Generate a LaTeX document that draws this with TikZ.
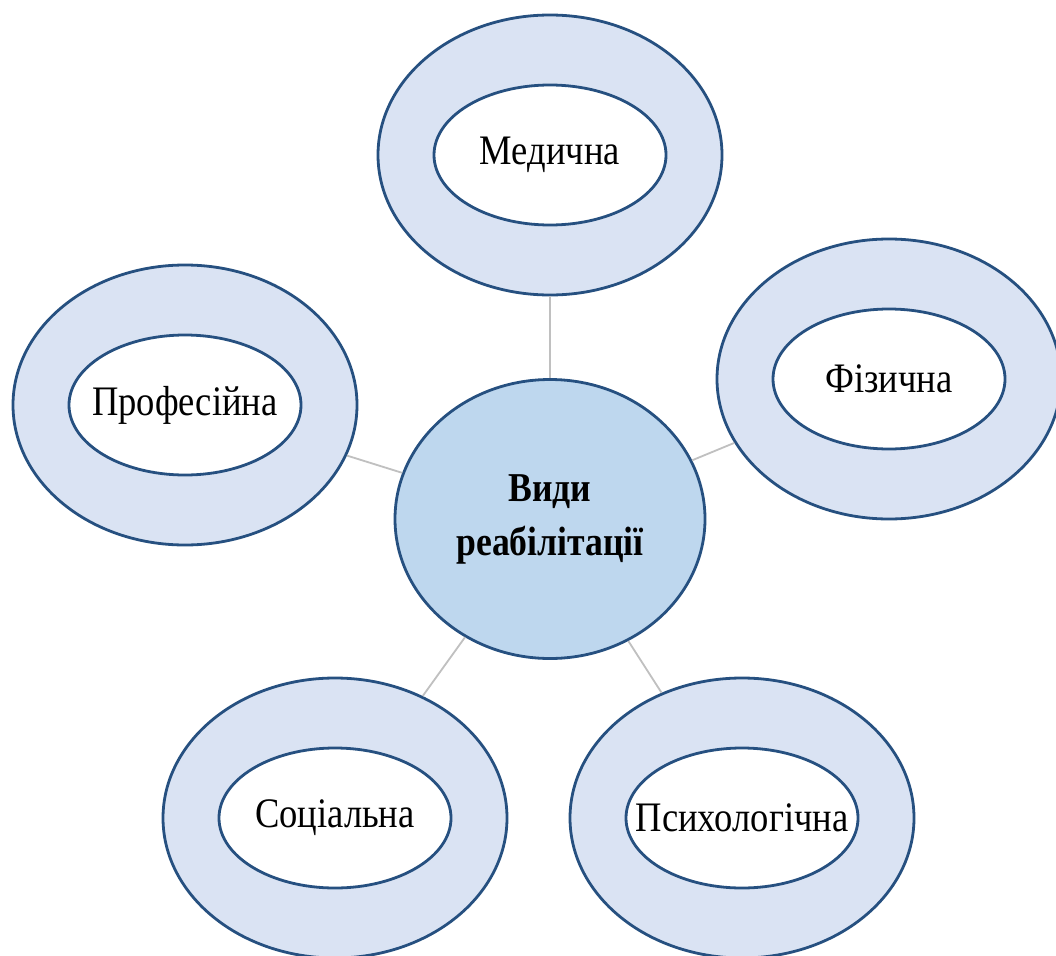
\documentclass[tikz,border=0pt]{standalone}
\usepackage{fontspec}
\setmainfont{Liberation Serif}[FakeStretch=0.87]
\usetikzlibrary{shapes.geometric}
\definecolor{rimblue}{RGB}{38,80,128}
\definecolor{ringfill}{RGB}{218,227,243}
\definecolor{hubfill}{RGB}{190,215,238}
\definecolor{spokegray}{RGB}{192,192,192}
\newcommand{\kindfont}{\fontsize{42}{50}\selectfont}
\tikzset{
  ring/.style={ellipse, draw=rimblue, line width=2.8pt, fill=ringfill,
    minimum width=344pt, minimum height=280pt, inner sep=0pt},
  kind/.style={ellipse, draw=rimblue, line width=2.8pt, fill=white,
    minimum width=232pt, minimum height=140pt, inner sep=0pt,
    label={[font=\kindfont, inner sep=0pt]center:#1}},
  hub/.style={ellipse, draw=rimblue, line width=2.8pt, fill=hubfill,
    minimum width=310pt, minimum height=279pt, inner sep=0pt,
    align=center, font=\fontsize{41}{54}\selectfont\bfseries},
  spoke/.style={draw=spokegray, line width=1.8pt}
}
\begin{document}
\begin{tikzpicture}[x=1pt, y=-1pt]
    \clip (0,0) rectangle (1056,955);
    \fill[white] (0,0) rectangle (1056,955);
    % centre
    \node[hub] (vydy) at (550,519) {Види\\реабілітації};
    % outer rings
    \node[ring] (med) at (550,155) {};
    \node[ring] (fiz) at (889,379) {};
    \node[ring] (prof) at (185,405) {};
    \node[ring] (soc) at (335,818) {};
    \node[ring] (psy) at (742,818) {};
    \node[kind=Медична] (medin) at (med.center) {};
    \node[kind=Фізична] (fizin) at (fiz.center) {};
    \node[kind=Професійна] (profin) at (prof.center) {};
    \node[kind=Соціальна] (socin) at (soc.center) {};
    \node[kind=Психологічна] (psyin) at (psy.center) {};
    % spokes
    \draw[spoke] (vydy) -- (med);
    \draw[spoke] (vydy) -- (fiz);
    \draw[spoke] (vydy) -- (prof);
    \draw[spoke] (vydy) -- (soc);
    \draw[spoke] (vydy) -- (psy);
\end{tikzpicture}
\end{document}
